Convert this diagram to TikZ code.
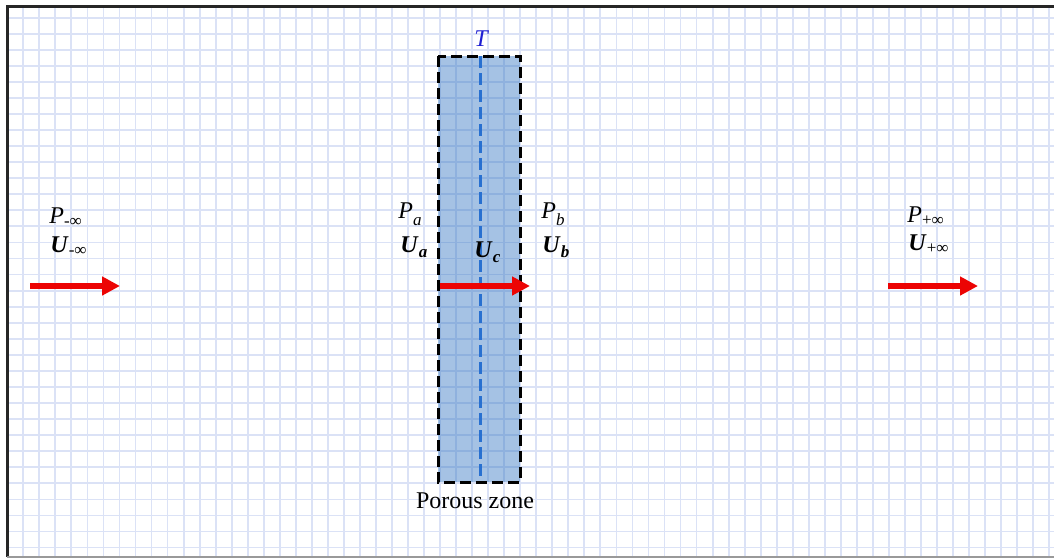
\documentclass[tikz,border=0pt]{standalone}
\usepackage{fontspec}
\setmainfont{Liberation Serif}
\usetikzlibrary{arrows.meta}
\definecolor{gridblue}{RGB}{219,226,246}
\definecolor{zoneblue}{RGB}{40,110,190}
\definecolor{axisblue}{RGB}{40,112,208}
\definecolor{labelblue}{RGB}{30,30,210}
\definecolor{flowred}{RGB}{236,4,4}
\newcommand{\lowsub}[2][2.5pt]{\raisebox{-#1}{\fontsize{8.5}{9}\selectfont #2}}

\begin{document}
\begin{tikzpicture}[x=0.5pt,y=-0.5pt,
  lbl/.style={anchor=base west,inner sep=0pt,font=\fontsize{12}{14}\selectfont},
  flow/.style={flowred,line width=3pt,-{Triangle[length=9pt,width=9pt]}}]
\useasboundingbox (0,0) rectangle (1054,558);
\foreach \i in {0,...,64} \draw[gridblue,line width=0.9pt] ({23.3+16.03*\i},6) -- ({23.3+16.03*\i},557);
\foreach \j in {0,...,33} \draw[gridblue,line width=0.9pt] (7,{17.6+16.06*\j}) -- (1054,{17.6+16.06*\j});
\draw[black!85,line width=1.5pt] (1054,6) -- (7,6) -- (7,557);
\draw[black!40,line width=1pt] (7,557) -- (1054,557);
% porous zone
\fill[zoneblue,fill opacity=0.42] (438,56) rectangle (520,482);
\coordinate (axistop) at (480,56);
\coordinate (axisbot) at (480,482);
\draw[axisblue,line width=1.5pt,dash pattern=on 6pt off 2.5pt] (axistop) -- (axisbot);
\draw[black,line width=1.5pt,dash pattern=on 5.5pt off 2.5pt] (438,56) rectangle (520,482);
\node[anchor=base,inner sep=0pt,font=\fontsize{12}{14}\selectfont\itshape,labelblue] (tlabel) at (481,46) {T};
\node[anchor=base,inner sep=0pt,font=\fontsize{12}{14}\selectfont] (zonelabel) at (475,508) {Porous zone};
% flow arrows
\coordinate (intail) at (30,286);
\coordinate (inhead) at (120,286);
\coordinate (midtail) at (440,286);
\coordinate (midhead) at (530,286);
\coordinate (outtail) at (888,286);
\coordinate (outhead) at (978,286);
\draw[flow] (intail) -- (inhead);
\draw[flow] (midtail) -- (midhead);
\draw[flow] (outtail) -- (outhead);
% labels
\node[lbl] (pminus) at (49,223) {\textit{P}\lowsub[1.5pt]{-∞}};
\node[lbl] (uminus) at (50,252) {\textbf{\textit{U}}\lowsub[1.5pt]{-∞}};
\node[lbl] (pa) at (398,218) {\textit{P}\lowsub[3.5pt]{\textit{a}}};
\node[lbl] (ua) at (400,252) {\textbf{\textit{U}}\lowsub{\textbf{\textit{a}}}};
\node[lbl] (uc) at (474,257) {\textbf{\textit{U}}\lowsub{\textbf{\textit{c}}}};
\node[lbl] (pb) at (541,218) {\textit{P}\lowsub[3.5pt]{\textit{b}}};
\node[lbl] (ub) at (542,252) {\textbf{\textit{U}}\lowsub{\textbf{\textit{b}}}};
\node[lbl] (pplus) at (907,222) {\textit{P}\lowsub[1.5pt]{+∞}};
\node[lbl] (uplus) at (908,250) {\textbf{\textit{U}}\lowsub[1.5pt]{+∞}};
\end{tikzpicture}
\end{document}
